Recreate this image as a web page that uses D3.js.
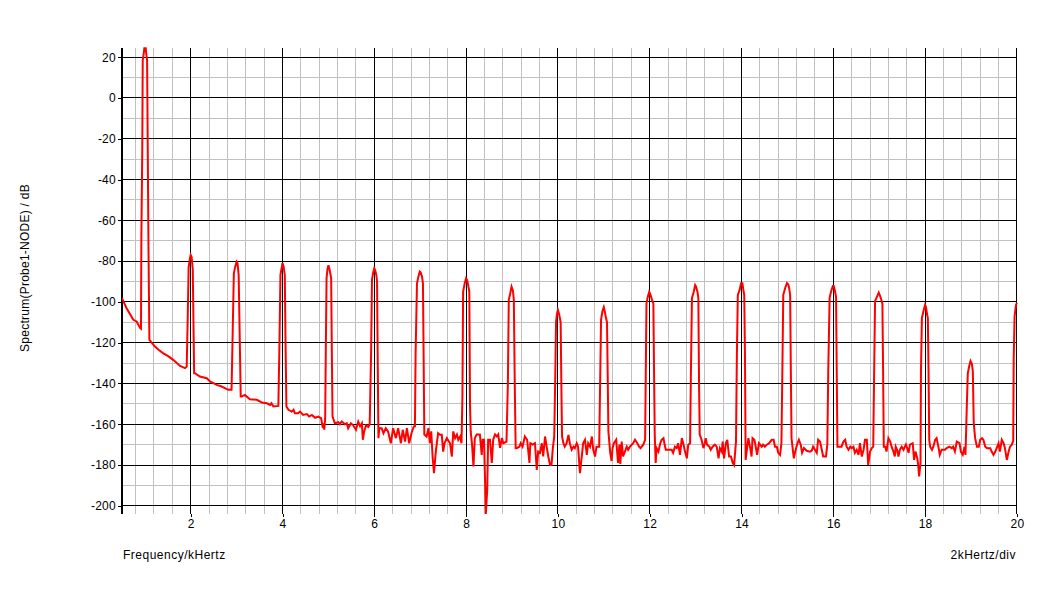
<!DOCTYPE html>
<html>
<head>
<meta charset="utf-8">
<script src="https://cdn.jsdelivr.net/npm/d3@7"></script>
<style>
  html, body { margin: 0; padding: 0; background: #fff; }
  svg { display: block; font-family: "Liberation Sans", Arial, sans-serif; }
</style>
</head>
<body>
<svg id="chart" width="1064" height="596"></svg>
<script>
// ---------- data (frequency in kHz, level in dB) ----------
const xTickLabels = [2, 4, 6, 8, 10, 12, 14, 16, 18, 20];
const yTickLabels = [20, 0, -20, -40, -60, -80, -100, -120, -140, -160, -180, -200];
const xMinorTicks = [0.8, 1.2, 1.6, 2.4, 2.8, 3.2, 3.6, 4.4, 4.8, 5.2, 5.6, 6.4, 6.8, 7.2, 7.6, 8.4, 8.8, 9.2, 9.6,
  10.4, 10.8, 11.2, 11.6, 12.4, 12.8, 13.2, 13.6, 14.4, 14.8, 15.2, 15.6, 16.4, 16.8, 17.2, 17.6, 18.4, 18.8, 19.2, 19.6];
const yMinorTicks = [10, -10, -30, -50, -70, -90, -110, -130, -150, -170, -190];
const xTitle = "Frequency/kHertz";
const xScaleNote = "2kHertz/div";
const yTitle = "Spectrum(Probe1-NODE) / dB";

const bandA = [[0.5,-98],[0.6,-103],[0.75,-108.8],[0.82,-109.6],[0.9,-112.9],[0.917,-113.2],[0.925,-69],[0.945,-25],
  [0.955,18.6],[0.975,21.5],[0.99,24.4],[1.02,24.4],[1.035,21],[1.05,18.6],[1.065,-27.5],[1.08,-73],[1.1,-118.6],
  [1.222,-121.9],[1.3,-123.5],[1.403,-125.2],[1.5,-126.5],[1.62,-128.4],[1.767,-131.4],[1.876,-132.5],[1.913,-131.7],
  [1.935,-108],[1.955,-83],[1.98,-79],[2.0,-77],[2.02,-78],[2.045,-84],[2.06,-110],[2.075,-135]];
const bandB = [[2.093,-135],[2.2,-136.6],[2.35,-137.4],[2.42,-139],[2.566,-140.7],[2.675,-141.5],[2.82,-143.1],[2.89,-143.1],
  [2.915,-114.5],[2.94,-86],[2.97,-82.7],[3.0,-80.3],[3.02,-81],[3.045,-86.8],[3.07,-120],[3.09,-146.4],[3.11,-146.4],
  [3.18,-145.6],[3.29,-147.7],[3.44,-148],[3.55,-149.3],[3.66,-149.7],[3.73,-150.5],[3.76,-149.7],[3.8,-151.3],[3.91,-151],
  [3.935,-118.6],[3.955,-86.8],[3.98,-83.5],[4.0,-81],[4.025,-82.7],[4.05,-86.8],[4.065,-118],[4.085,-151.3]];
const bandC = [[4.13,-152.9],[4.2,-153.8],[4.24,-152.9],[4.27,-154.6],[4.34,-154.6],[4.38,-153.8],[4.45,-155.4],[4.53,-155],
  [4.58,-156.2],[4.64,-155.4],[4.71,-156.8],[4.78,-156.2],[4.84,-157],[4.88,-161.9],[4.9,-159.5],[4.91,-162.7],[4.93,-157],
  [4.945,-120],[4.96,-88.4],[4.98,-84],[5.0,-82],[5.025,-84],[5.06,-88.4],[5.075,-125],[5.09,-156.2],[5.14,-159.5],
  [5.22,-159],[5.25,-160],[5.29,-158.6],[5.36,-160],[5.40,-159.5],[5.43,-162],[5.49,-159.5],[5.54,-160.5],[5.6,-162.7],
  [5.65,-158.7],[5.69,-161],[5.73,-159.5],[5.75,-167.6],[5.78,-163.5],[5.82,-160.5],[5.87,-161.3],[5.9,-160],[5.93,-125],
  [5.95,-89],[5.975,-85.6],[6.0,-83.5],[6.02,-84.5],[6.045,-87],[6.06,-90],[6.075,-130],[6.09,-166.8]];
const bandD = [[6.11,-161.9],[6.16,-161.9],[6.2,-164.4],[6.25,-161.9],[6.3,-163.5],[6.36,-169.3],[6.41,-161.9],[6.47,-166.8],
  [6.52,-161.9],[6.58,-169.3],[6.62,-162.7],[6.67,-168.5],[6.71,-161.9],[6.76,-169.3],[6.81,-164.4],[6.86,-161.1],[6.885,-161],
  [6.9,-125],[6.93,-91],[6.96,-87.6],[6.99,-85.1],[7.01,-85.5],[7.04,-87.6],[7.06,-91],[7.075,-128],[7.09,-165],[7.14,-166],
  [7.18,-161.9],[7.21,-169.3],[7.24,-163.5],[7.27,-175.8],[7.3,-184],[7.34,-173.4],[7.39,-164.4],[7.43,-165.2],[7.47,-165.2],
  [7.5,-173.4],[7.53,-169.3],[7.58,-166.8],[7.65,-169.3],[7.69,-175.8],[7.72,-163.5],[7.76,-166.8],[7.8,-165],[7.83,-167.6],
  [7.87,-166],[7.9,-169.3],[7.92,-146],[7.935,-95],[7.97,-90.8],[8.0,-88.4],[8.025,-89.5],[8.05,-92.4],[8.07,-95],[8.085,-150],
  [8.1,-163.5],[8.13,-170],[8.16,-180.7],[8.19,-166.8],[8.23,-165],[8.3,-165],[8.34,-175],[8.36,-167.6],[8.39,-167.6],
  [8.41,-184.8],[8.43,-204],[8.46,-192.2],[8.48,-167.6],[8.52,-167.6],[8.56,-179],[8.59,-167.6],[8.63,-165],[8.67,-166],
  [8.7,-165],[8.74,-171.6],[8.78,-166.8],[8.81,-169.3],[8.88,-168.5],[8.91,-140],[8.93,-99],[8.96,-96],[8.99,-92.5],
  [9.02,-94.5],[9.04,-99],[9.06,-140],[9.08,-171.7]];
const bandE = [[9.1,-171.7],[9.16,-171],[9.19,-169.3],[9.23,-171],[9.28,-166],[9.33,-167.6],[9.38,-179],[9.4,-169.3],
  [9.45,-170],[9.5,-169.3],[9.54,-182.4],[9.57,-173.4],[9.61,-174],[9.65,-169.3],[9.68,-175.8],[9.72,-166],[9.76,-171.7],
  [9.79,-175.8],[9.83,-180],[9.86,-180],[9.89,-171.7],[9.92,-166],[9.94,-140],[9.96,-109.6],[9.98,-106],[10.0,-104],
  [10.02,-105.5],[10.04,-107.5],[10.06,-110],[10.075,-140],[10.09,-166],[10.12,-169.3],[10.15,-171],[10.19,-169.3],
  [10.23,-165.2],[10.26,-169.3],[10.3,-172.5],[10.34,-171],[10.37,-171.7],[10.41,-169.3],[10.44,-171],[10.48,-184],
  [10.52,-175.8],[10.55,-169.3],[10.59,-167.6],[10.63,-175],[10.66,-169.3],[10.7,-171],[10.74,-166],[10.77,-172.5],
  [10.81,-175.8],[10.84,-171],[10.9,-171],[10.92,-140],[10.94,-108.8],[10.97,-104.6],[11.0,-102.6],[11.02,-104.6],
  [11.04,-107],[11.07,-110],[11.085,-136],[11.1,-163.5],[11.14,-174],[11.17,-178],[11.19,-171.7],[11.22,-169.3],
  [11.27,-167.6],[11.31,-179],[11.34,-170],[11.36,-179.5],[11.39,-168.5],[11.42,-175.8],[11.46,-173.4],[11.5,-171],
  [11.53,-172.5],[11.57,-171],[11.61,-170],[11.64,-169.3],[11.68,-167.6],[11.73,-169.3],[11.77,-171],[11.8,-171.7],
  [11.86,-170],[11.9,-167.6],[11.915,-134],[11.93,-100.7],[11.96,-97.4],[11.99,-95],[12.02,-96.6],[12.05,-99],
  [12.08,-100.7],[12.095,-135],[12.11,-165]];
const bandF = [[12.13,-179],[12.15,-171.7],[12.19,-173.4],[12.23,-169.3],[12.26,-167.6],[12.3,-166.8],[12.32,-169.3],
  [12.35,-172.5],[12.4,-172.5],[12.48,-172.5],[12.51,-174],[12.55,-171],[12.59,-171.7],[12.62,-169.3],[12.66,-175],
  [12.7,-166.8],[12.73,-169.3],[12.77,-173.4],[12.81,-176.7],[12.84,-170],[12.88,-169.3],[12.895,-140],[12.92,-98.2],
  [12.96,-95],[12.99,-91.7],[13.01,-92.5],[13.04,-95],[13.06,-98.2],[13.075,-140],[13.09,-165],[13.13,-167.6],
  [13.17,-171.7],[13.2,-169.3],[13.22,-166.8],[13.25,-170],[13.3,-171],[13.33,-172.5],[13.37,-171],[13.42,-170],
  [13.46,-171],[13.5,-176.7],[13.53,-171.7],[13.57,-173.4],[13.59,-168.5],[13.62,-176.7],[13.66,-169.3],[13.69,-167.6],
  [13.73,-175.8],[13.77,-175.8],[13.81,-179],[13.84,-180],[13.86,-174],[13.88,-168.5],[13.9,-125],[13.92,-96.6],
  [13.96,-94.1],[13.99,-90.8],[14.02,-90.8],[14.04,-94.1],[14.06,-96.6],[14.075,-125],[14.09,-177.5],[14.15,-166.8],
  [14.19,-171.7],[14.22,-175.8],[14.24,-166.8],[14.28,-167.6],[14.31,-171],[14.34,-175],[14.38,-169.3],[14.44,-171],
  [14.47,-170],[14.51,-171],[14.55,-170],[14.6,-169.3],[14.66,-167.6],[14.7,-167.6],[14.73,-171],[14.77,-171],[14.8,-174],
  [14.84,-175],[14.87,-169.3],[14.89,-134],[14.91,-96.6],[14.95,-93.3],[14.99,-90.8],[15.02,-91.5],[15.04,-93.5],
  [15.06,-96.6],[15.075,-134],[15.09,-166.8]];
const bandG = [[15.11,-171],[15.14,-176.7],[15.18,-172.5],[15.22,-169.3],[15.25,-167.6],[15.29,-170],[15.32,-174],
  [15.36,-171.7],[15.42,-173],[15.49,-173.4],[15.53,-173],[15.56,-171],[15.6,-172.5],[15.64,-174],[15.67,-167.6],
  [15.71,-168.5],[15.75,-172.5],[15.78,-175.8],[15.84,-175.8],[15.87,-170],[15.89,-134],[15.92,-98],[15.95,-95],
  [15.99,-92.2],[16.01,-92.2],[16.04,-95],[16.06,-97.5],[16.075,-134],[16.09,-171],[16.11,-171],[16.18,-171],[16.22,-168.5],
  [16.26,-167.6],[16.29,-171],[16.33,-172.5],[16.37,-171],[16.4,-171.7],[16.44,-171],[16.47,-174],[16.51,-172.5],
  [16.55,-175],[16.58,-169.3],[16.62,-175.8],[16.66,-172.5],[16.69,-167.6],[16.73,-167.6],[16.76,-180],[16.8,-173.4],
  [16.84,-171.7],[16.87,-171],[16.89,-134],[16.91,-99.6],[16.95,-97.5],[16.99,-95.4],[17.01,-96.5],[17.04,-98.5],
  [17.07,-101],[17.085,-134],[17.1,-171],[17.13,-171],[17.16,-173.4],[17.2,-166.8],[17.24,-168.5],[17.27,-171],
  [17.31,-173.4],[17.34,-175.8],[17.36,-171],[17.39,-172.5],[17.42,-175.8],[17.45,-172.5],[17.49,-171],[17.53,-172.5],
  [17.58,-170],[17.61,-171.7],[17.64,-174],[17.67,-170],[17.73,-169.3],[17.76,-177.5],[17.79,-173.4],[17.83,-176.7],
  [17.85,-180],[17.87,-185.6],[17.9,-179],[17.91,-134],[17.93,-108],[17.97,-104],[18.0,-101.5],[18.02,-102.5],
  [18.04,-105.7],[18.06,-108],[18.075,-134],[18.09,-167.6]];
const bandH = [[18.11,-171],[18.15,-172.5],[18.18,-171],[18.22,-167.6],[18.25,-166.8],[18.29,-171],[18.32,-175],
  [18.36,-172.5],[18.43,-172.5],[18.47,-171.7],[18.53,-171],[18.58,-171.7],[18.61,-171],[18.65,-173.4],[18.69,-168.5],
  [18.75,-169.3],[18.78,-173.4],[18.82,-175],[18.86,-171],[18.88,-175],[18.91,-150],[18.93,-135],[18.96,-131.6],
  [18.99,-129],[19.02,-130.5],[19.04,-134],[19.06,-159.5],[19.09,-166.8],[19.13,-171],[19.17,-171],[19.2,-167.6],
  [19.24,-166.8],[19.27,-167.6],[19.31,-171],[19.35,-171.7],[19.42,-171.7],[19.45,-173.4],[19.49,-175],[19.53,-173.4],
  [19.56,-171.7],[19.6,-169.3],[19.63,-173.4],[19.67,-167.6],[19.71,-169.3],[19.74,-171.7],[19.78,-177.5],[19.82,-173.4],
  [19.85,-171],[19.89,-170],[19.92,-168],[19.93,-128],[19.95,-107],[19.98,-101.5],[20.0,-100.5]];

const spectrum = [].concat(bandA, bandB, bandC, bandD, bandE, bandF, bandG, bandH);

// ---------- layout ----------
const svg = d3.select("#chart");
const plot = { left: 121.85, right: 1016.9, top: 48, bottom: 514 };

const x = d3.scaleLinear().domain([0.5, 20]).range([plot.left, plot.right]);
const y = d3.scaleLinear().domain([-204, 24.5]).range([plot.bottom, plot.top]);

const grid = svg.append("g").attr("shape-rendering", "crispEdges");

// minor grid
grid.selectAll(".vminor").data(xMinorTicks).join("line")
  .attr("x1", d => x(d)).attr("x2", d => x(d))
  .attr("y1", plot.top).attr("y2", plot.bottom)
  .attr("stroke", "#c0c0c0").attr("stroke-width", 1);
grid.selectAll(".hminor").data(yMinorTicks).join("line")
  .attr("x1", plot.left).attr("x2", plot.right)
  .attr("y1", d => y(d)).attr("y2", d => y(d))
  .attr("stroke", "#c0c0c0").attr("stroke-width", 1);

// major grid
grid.selectAll(".vmajor").data(xTickLabels).join("line")
  .attr("x1", d => x(d)).attr("x2", d => x(d))
  .attr("y1", plot.top).attr("y2", plot.bottom)
  .attr("stroke", "#000").attr("stroke-width", 1);
grid.selectAll(".hmajor").data(yTickLabels).join("line")
  .attr("x1", plot.left).attr("x2", plot.right)
  .attr("y1", d => y(d)).attr("y2", d => y(d))
  .attr("stroke", "#000").attr("stroke-width", 1);

// axes (plain hyphen-minus labels as in the original)
const fmt = d => String(d);
const yAxis = d3.axisLeft(y).tickValues(yTickLabels).tickFormat(fmt).tickSize(4).tickSizeOuter(0).tickPadding(2);
const gy = svg.append("g").attr("transform", `translate(${plot.left},0)`).call(yAxis);
gy.select(".domain").remove();

const xAxis = d3.axisBottom(x).tickValues(xTickLabels).tickFormat(fmt).tickSize(3).tickSizeOuter(0).tickPadding(2);
const gx = svg.append("g").attr("transform", `translate(0,${plot.bottom})`).call(xAxis);
gx.select(".domain").remove();

[gx, gy].forEach(g => {
  g.selectAll("line").attr("stroke", "#000").attr("shape-rendering", "crispEdges");
  g.selectAll("text").attr("fill", "#000")
    .style("font-family", '"Liberation Sans", Arial, sans-serif').style("font-size", "12px")
    .style("letter-spacing", "0.2px");
});

// thick left axis line
svg.append("line")
  .attr("x1", 122).attr("x2", 122)
  .attr("y1", plot.top).attr("y2", plot.bottom)
  .attr("stroke", "#000").attr("stroke-width", 2).attr("shape-rendering", "crispEdges");

// clip + trace
svg.append("clipPath").attr("id", "clip").append("rect")
  .attr("x", plot.left).attr("y", plot.top - 1)
  .attr("width", plot.right - plot.left + 2).attr("height", plot.bottom - plot.top + 2);

const line = d3.line().x(d => x(d[0])).y(d => y(d[1]));
svg.append("path")
  .datum(spectrum)
  .attr("clip-path", "url(#clip)")
  .attr("fill", "none")
  .attr("stroke", "#ff0000")
  .attr("stroke-width", 2)
  .attr("stroke-linejoin", "miter")
  .attr("d", line);

// titles
svg.append("text")
  .attr("x", 123).attr("y", 559)
  .attr("font-size", 12).attr("fill", "#000")
  .style("letter-spacing", "0.5px")
  .text(xTitle);
svg.append("text")
  .attr("x", 1016).attr("y", 559)
  .attr("text-anchor", "end")
  .attr("font-size", 12).attr("fill", "#000")
  .style("letter-spacing", "0.5px")
  .text(xScaleNote);
svg.append("text")
  .attr("transform", "translate(28.5,268) rotate(-90)")
  .attr("text-anchor", "middle")
  .attr("font-size", 12).attr("fill", "#000")
  .style("letter-spacing", "0.25px")
  .text(yTitle);
</script>
</body>
</html>
